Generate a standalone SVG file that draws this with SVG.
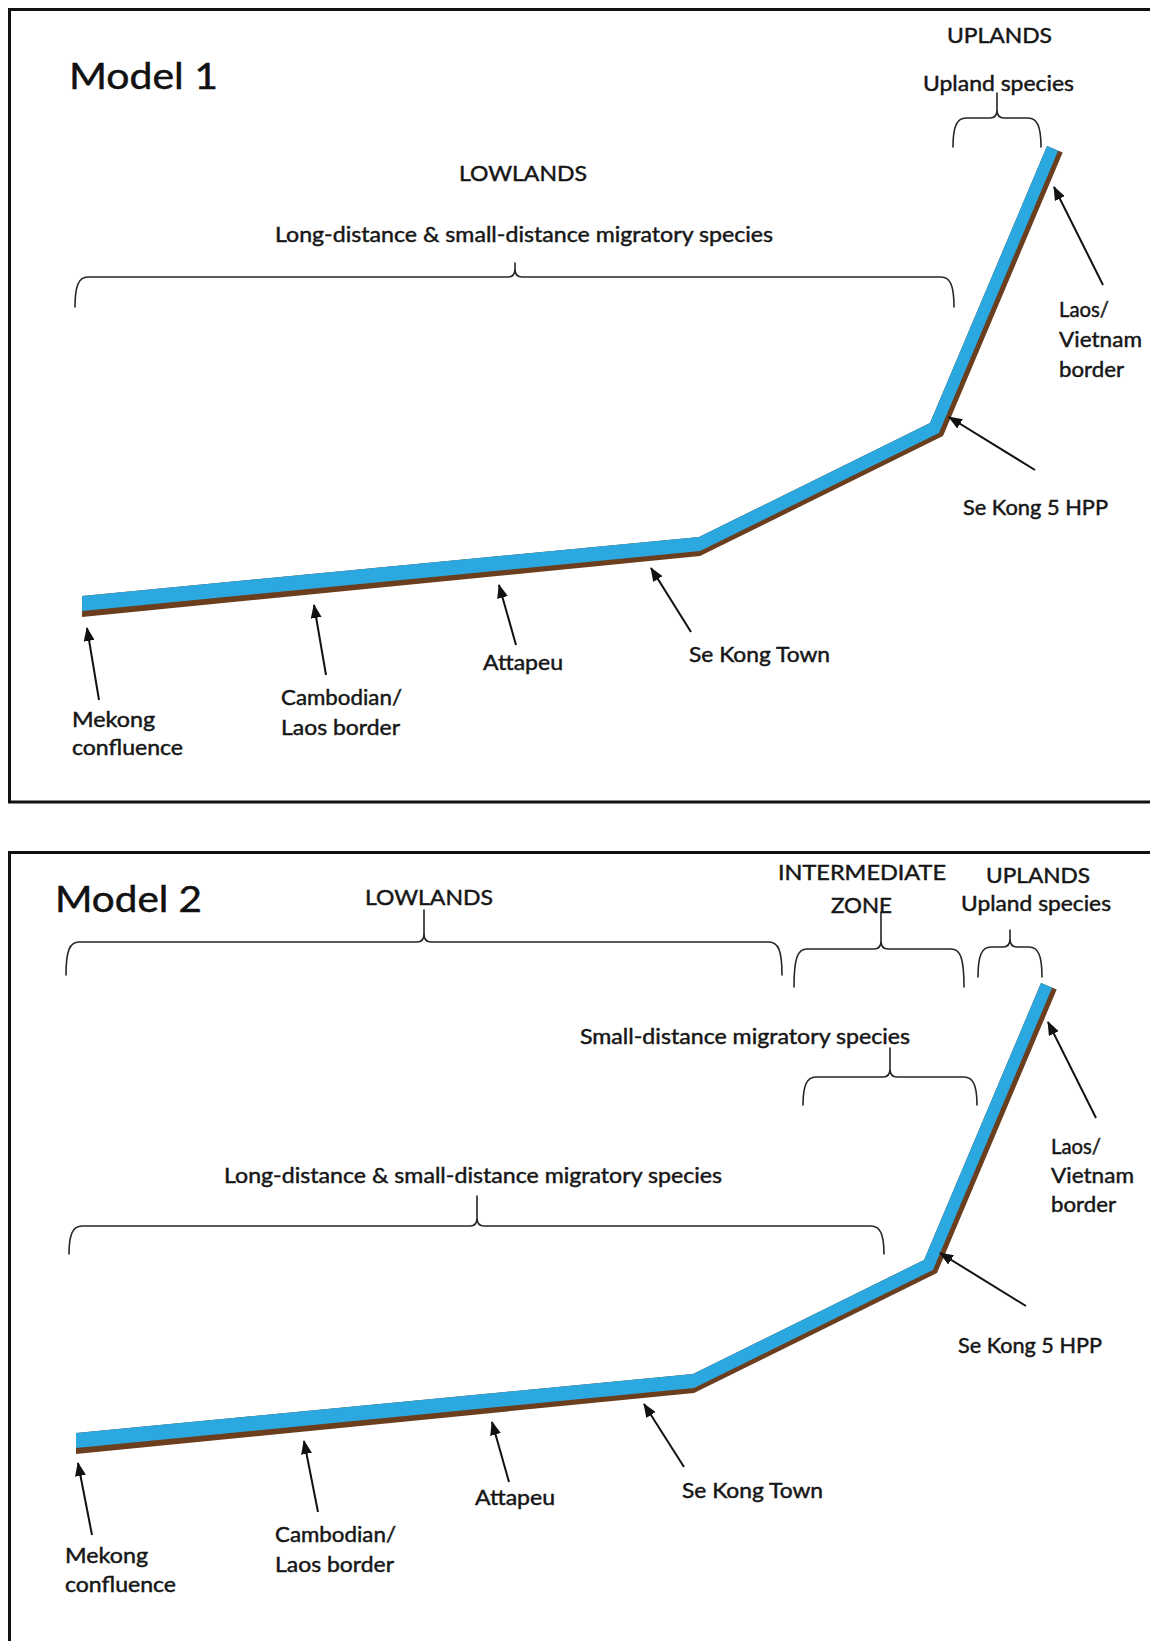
<svg xmlns="http://www.w3.org/2000/svg" width="1150" height="1641" viewBox="0 0 1150 1641">
<style>
  .t { font-family: "Lato", "Liberation Sans", sans-serif; font-size: 21px; fill: #161616; stroke: #161616; stroke-width: 0.45; }
  .title { font-family: "Lato", "Liberation Sans", sans-serif; font-size: 37px; fill: #111; stroke: #111; stroke-width: 0.5; }
  .box { fill: none; stroke: #111; stroke-width: 3; }
  .brace { fill: none; stroke: #262626; stroke-width: 1.6; stroke-linecap: round; stroke-linejoin: round; }
  .arrow { fill: none; stroke: #111; stroke-width: 2; marker-end: url(#ah); }
  .blue { fill: #2ba8e0; }
  .brown { fill: #6b3e1e; }
</style>
<defs>
  <marker id="ah" markerUnits="userSpaceOnUse" viewBox="0 0 14 11" markerWidth="14" markerHeight="11" refX="13" refY="5.5" orient="auto">
    <path d="M0,0 L14,5.5 L0,11 Z" fill="#111"/>
  </marker>
</defs>
<rect width="1150" height="1641" fill="#ffffff"/>

<!-- ============ MODEL 1 ============ -->
<g id="model1">
  <rect id="m1-frame" class="box" x="9.5" y="9.5" width="1160" height="792.5"/>
  <g id="m1-title"><text class="title" x="69" y="89" textLength="149" lengthAdjust="spacingAndGlyphs">Model 1</text></g>
  <g id="m1-uplands"><text class="t" x="947" y="43" textLength="105" lengthAdjust="spacingAndGlyphs">UPLANDS</text></g>
  <g id="m1-upland-species"><text class="t" x="923" y="91" textLength="151" lengthAdjust="spacingAndGlyphs">Upland species</text></g>
  <g id="m1-lowlands"><text class="t" x="459" y="181" textLength="128" lengthAdjust="spacingAndGlyphs">LOWLANDS</text></g>
  <g id="m1-long-distance"><text class="t" x="275" y="242" textLength="498" lengthAdjust="spacingAndGlyphs">Long-distance &amp; small-distance migratory species</text></g>

  <g id="m1-river">
    <polygon class="brown" points="82,596 699,537 930,423 1047,146 1062.7,152.6 943,436.1 700,556 82,617"/>
    <polygon class="blue" points="82,596 699,537 930,423 1047,146 1058.1,150.7 938.9,433.1 700,551 82,611"/>
  </g>

  <g id="m1-laos-vietnam">
    <text class="t" x="1059" y="317" textLength="50" lengthAdjust="spacingAndGlyphs">Laos/</text>
    <text class="t" x="1059" y="347" textLength="83" lengthAdjust="spacingAndGlyphs">Vietnam</text>
    <text class="t" x="1059" y="377" textLength="65" lengthAdjust="spacingAndGlyphs">border</text>
  </g>
  <g id="m1-sekong5"><text class="t" x="963" y="515" textLength="145" lengthAdjust="spacingAndGlyphs">Se Kong 5 HPP</text></g>
  <g id="m1-sekong-town"><text class="t" x="689" y="662" textLength="141" lengthAdjust="spacingAndGlyphs">Se Kong Town</text></g>
  <g id="m1-attapeu"><text class="t" x="483" y="670" textLength="80" lengthAdjust="spacingAndGlyphs">Attapeu</text></g>
  <g id="m1-cambodian">
    <text class="t" x="281" y="705" textLength="121" lengthAdjust="spacingAndGlyphs">Cambodian/</text>
    <text class="t" x="281" y="735" textLength="119" lengthAdjust="spacingAndGlyphs">Laos border</text>
  </g>
  <g id="m1-mekong">
    <text class="t" x="72" y="727" textLength="83" lengthAdjust="spacingAndGlyphs">Mekong</text>
    <text class="t" x="72" y="755" textLength="111" lengthAdjust="spacingAndGlyphs">confluence</text>
  </g>

  <g id="m1-connectors">
    <path class="brace" d="M75,307 C75,285 79,277 88,277 L508,277 C513,277 515,274 515,269 L515,263 M515,263 L515,269 C515,274 517,277 522,277 L941,277 C950,277 954,285 954,307"/>
    <path class="brace" d="M953,147 C953,126 957,118 966,118 L990,118 C995,118 997,115 997,110 L997,93 M997,93 L997,110 C997,115 999,118 1004,118 L1028,118 C1037,118 1041,126 1041,147"/>
    <line class="arrow" x1="99" y1="700" x2="87" y2="628"/>
    <line class="arrow" x1="326" y1="675" x2="314" y2="605"/>
    <line class="arrow" x1="516" y1="645" x2="499" y2="585"/>
    <line class="arrow" x1="691" y1="632" x2="651" y2="568"/>
    <line class="arrow" x1="1035" y1="470" x2="949" y2="417"/>
    <line class="arrow" x1="1103" y1="285" x2="1054" y2="187"/>
  </g>
</g>

<!-- ============ MODEL 2 ============ -->
<g id="model2">
  <rect id="m2-frame" class="box" x="9.5" y="852.5" width="1160" height="800"/>
  <g id="m2-title"><text class="title" x="55" y="912" textLength="147" lengthAdjust="spacingAndGlyphs">Model 2</text></g>
  <g id="m2-lowlands"><text class="t" x="365" y="905" textLength="128" lengthAdjust="spacingAndGlyphs">LOWLANDS</text></g>
  <g id="m2-intermediate">
    <text class="t" x="778" y="880" textLength="168" lengthAdjust="spacingAndGlyphs">INTERMEDIATE</text>
    <text class="t" x="831" y="913" textLength="61" lengthAdjust="spacingAndGlyphs">ZONE</text>
  </g>
  <g id="m2-uplands"><text class="t" x="986" y="883" textLength="104" lengthAdjust="spacingAndGlyphs">UPLANDS</text></g>
  <g id="m2-upland-species"><text class="t" x="961" y="911" textLength="150" lengthAdjust="spacingAndGlyphs">Upland species</text></g>
  <g id="m2-small-distance"><text class="t" x="580" y="1044" textLength="330" lengthAdjust="spacingAndGlyphs">Small-distance migratory species</text></g>
  <g id="m2-long-distance"><text class="t" x="224" y="1183" textLength="498" lengthAdjust="spacingAndGlyphs">Long-distance &amp; small-distance migratory species</text></g>

  <g id="m2-river" transform="translate(-6,837)">
    <polygon class="brown" points="82,596 699,537 930,423 1047,146 1062.7,152.6 943,436.1 700,556 82,617"/>
    <polygon class="blue" points="82,596 699,537 930,423 1047,146 1058.1,150.7 938.9,433.1 700,551 82,611"/>
  </g>

  <g id="m2-laos-vietnam">
    <text class="t" x="1051" y="1154" textLength="50" lengthAdjust="spacingAndGlyphs">Laos/</text>
    <text class="t" x="1051" y="1183" textLength="83" lengthAdjust="spacingAndGlyphs">Vietnam</text>
    <text class="t" x="1051" y="1212" textLength="65" lengthAdjust="spacingAndGlyphs">border</text>
  </g>
  <g id="m2-sekong5"><text class="t" x="958" y="1353" textLength="144" lengthAdjust="spacingAndGlyphs">Se Kong 5 HPP</text></g>
  <g id="m2-sekong-town"><text class="t" x="682" y="1498" textLength="141" lengthAdjust="spacingAndGlyphs">Se Kong Town</text></g>
  <g id="m2-attapeu"><text class="t" x="475" y="1505" textLength="80" lengthAdjust="spacingAndGlyphs">Attapeu</text></g>
  <g id="m2-cambodian">
    <text class="t" x="275" y="1542" textLength="121" lengthAdjust="spacingAndGlyphs">Cambodian/</text>
    <text class="t" x="275" y="1572" textLength="119" lengthAdjust="spacingAndGlyphs">Laos border</text>
  </g>
  <g id="m2-mekong">
    <text class="t" x="65" y="1563" textLength="83" lengthAdjust="spacingAndGlyphs">Mekong</text>
    <text class="t" x="65" y="1592" textLength="111" lengthAdjust="spacingAndGlyphs">confluence</text>
  </g>

  <g id="m2-connectors">
    <path class="brace" d="M66,975 C66,950 70,942 79,942 L417,942 C422,942 424,939 424,934 L424,910 M424,910 L424,934 C424,939 426,942 431,942 L769,942 C778,942 782,950 782,975"/>
    <path class="brace" d="M794,987 C794,957 798,949 807,949 L874,949 C879,949 881,946 881,941 L881,912 M881,912 L881,941 C881,946 883,949 888,949 L951,949 C960,949 964,957 964,987"/>
    <path class="brace" d="M978,977 C978,955 982,947 991,947 L1003,947 C1008,947 1010,944 1010,939 L1010,930 M1010,930 L1010,939 C1010,944 1012,947 1017,947 L1029,947 C1038,947 1042,955 1042,977"/>
    <path class="brace" d="M803,1105 C803,1085 807,1077 816,1077 L883,1077 C888,1077 890,1074 890,1069 L890,1048 M890,1048 L890,1069 C890,1074 892,1077 897,1077 L964,1077 C973,1077 977,1085 977,1105"/>
    <path class="brace" d="M69,1254 C69,1234 73,1226 82,1226 L470,1226 C475,1226 477,1223 477,1218 L477,1196 M477,1196 L477,1218 C477,1223 479,1226 484,1226 L871,1226 C880,1226 884,1234 884,1254"/>
    <line class="arrow" x1="92" y1="1535" x2="78" y2="1463"/>
    <line class="arrow" x1="318" y1="1512" x2="304" y2="1441"/>
    <line class="arrow" x1="509" y1="1482" x2="492" y2="1422"/>
    <line class="arrow" x1="684" y1="1467" x2="644" y2="1404"/>
    <line class="arrow" x1="1026" y1="1306" x2="940" y2="1253"/>
    <line class="arrow" x1="1096" y1="1118" x2="1048" y2="1022"/>
  </g>
</g>
</svg>
